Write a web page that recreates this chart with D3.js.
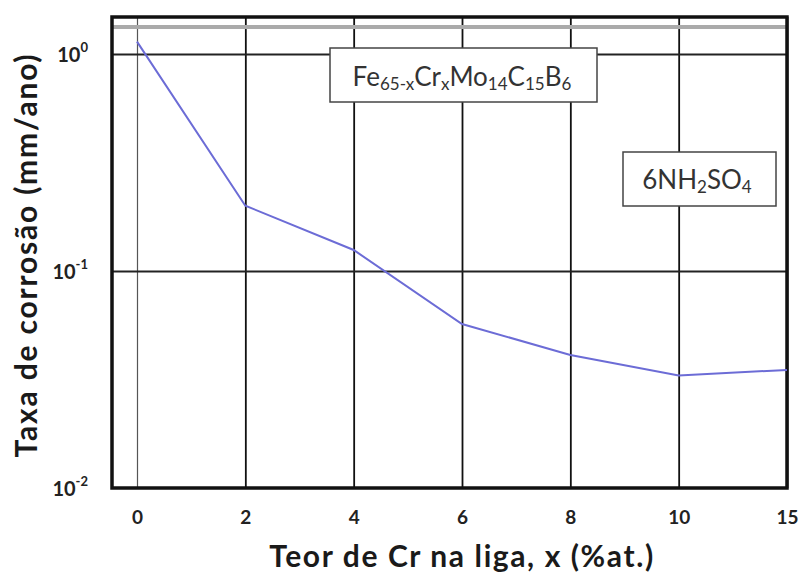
<!DOCTYPE html>
<html lang="pt">
<head>
<meta charset="UTF-8">
<title>Taxa de corrosão</title>
<style>
    body { margin: 0; background: #fff; }
    svg { display: block; }
    .tick text { font-family: Lato, "Open Sans", sans-serif; font-weight: bold; fill: #222; }
    .title { font-family: Lato, "Open Sans", sans-serif; font-weight: bold; fill: #1a1a1a; }
    .legend text { font-family: Lato, "Open Sans", sans-serif; fill: #333; }
</style>
</head>
<body>
<svg id="chart"></svg>
<script src="https://cdn.jsdelivr.net/npm/d3@7"></script>
<script>

const crContent = ["0", "2", "4", "6", "8", "10", "15"];
const corrosionRate = [1.14, 0.20, 0.125, 0.057, 0.041, 0.033, 0.035];
const yTicks = [1, 0.1, 0.01];
const yTickExp = ["0", "-1", "-2"];

const width = 801, height = 577;
const frame = { left: 112, right: 787, top: 17, bottom: 488 };

const svg = d3.select("#chart")
    .attr("width", width)
    .attr("height", height);

const x = d3.scalePoint()
    .domain(crContent)
    .range([137, frame.right]);

const y = d3.scaleLog()
    .domain([0.01, 1.481])
    .range([frame.bottom, frame.top]);

// vertical grid
svg.append("g")
    .attr("transform", `translate(0,${frame.bottom})`)
    .call(d3.axisBottom(x).tickSize(-(frame.bottom - frame.top)).tickFormat(""))
    .call(g => g.select(".domain").remove())
    .call(g => g.selectAll(".tick line")
        .attr("stroke", (d, i) => i === 0 ? "#555" : "#111")
        .attr("stroke-width", (d, i) => i === 0 ? 1.2 : 1.8));

// horizontal grid
svg.append("g")
    .attr("transform", `translate(${frame.left},0)`)
    .call(d3.axisLeft(y).tickValues(yTicks.slice(0, 2)).tickSize(-(frame.right - frame.left)).tickFormat(""))
    .call(g => g.select(".domain").remove())
    .call(g => g.selectAll(".tick line").attr("stroke", "#222").attr("stroke-width", 1.8));

// gray shadow band below top border
svg.append("line")
    .attr("x1", frame.left).attr("x2", frame.right)
    .attr("y1", frame.top + 10).attr("y2", frame.top + 10)
    .attr("stroke", "#aaa")
    .attr("stroke-width", 4);

// x tick labels
svg.append("g")
    .attr("transform", `translate(0,${frame.bottom})`)
    .call(d3.axisBottom(x).tickSize(0).tickPadding(23))
    .call(g => g.select(".domain").remove())
    .call(g => g.selectAll("text").attr("font-size", 19));

// y tick labels
const yAxis = svg.append("g")
    .attr("transform", `translate(${frame.left},0)`)
    .call(d3.axisLeft(y).tickValues(yTicks).tickSize(0).tickPadding(24).tickFormat(""))
    .call(g => g.select(".domain").remove());

yAxis.selectAll(".tick text")
    .attr("font-size", 20)
    .attr("dy", "0.35em")
    .each(function(d, i) {
        const t = d3.select(this);
        t.append("tspan").text("10");
        t.append("tspan").attr("font-size", 13).attr("dy", "-0.7em").text(yTickExp[i]);
    });

// frame
svg.append("rect")
    .attr("x", frame.left).attr("y", frame.top)
    .attr("width", frame.right - frame.left)
    .attr("height", frame.bottom - frame.top)
    .attr("fill", "none")
    .attr("stroke", "#111")
    .attr("stroke-width", 3.5);

// data line
const line = d3.line()
    .x((d, i) => x(crContent[i]))
    .y(d => y(d));

svg.append("path")
    .datum(corrosionRate)
    .attr("fill", "none")
    .attr("stroke", "#6c6cd6")
    .attr("stroke-width", 2)
    .attr("d", line);

// legend boxes
const legend = svg.append("g").attr("class", "legend");

const box1 = legend.append("g");
box1.append("rect")
    .attr("x", 330).attr("y", 48).attr("width", 267).attr("height", 54)
    .attr("fill", "#fff").attr("stroke", "#444").attr("stroke-width", 1.5);
const t1 = box1.append("text")
    .attr("x", 462).attr("y", 86)
    .attr("text-anchor", "middle")
    .attr("font-size", 26);
[["Fe", 0], ["65-x", 1], ["Cr", 0], ["x", 1], ["Mo", 0], ["14", 1], ["C", 0], ["15", 1], ["B", 0], ["6", 1]]
    .forEach(([s, sub]) => {
        t1.append("tspan")
            .attr("font-size", sub ? 17 : 26)
            .attr("baseline-shift", sub ? "-4" : null)
            .text(s);
    });

const box2 = legend.append("g");
box2.append("rect")
    .attr("x", 623).attr("y", 152).attr("width", 153).attr("height", 54)
    .attr("fill", "#fff").attr("stroke", "#444").attr("stroke-width", 1.5);
const t2 = box2.append("text")
    .attr("x", 697).attr("y", 189)
    .attr("text-anchor", "middle")
    .attr("font-size", 26);
[["6NH", 0], ["2", 1], ["SO", 0], ["4", 1]].forEach(([s, sub]) => {
    t2.append("tspan")
        .attr("font-size", sub ? 17 : 26)
        .attr("baseline-shift", sub ? "-4" : null)
        .text(s);
});

// axis titles
svg.append("text")
    .attr("class", "title")
    .attr("x", 462).attr("y", 567)
    .attr("text-anchor", "middle")
    .attr("font-size", 30)
    .attr("letter-spacing", 1.6)
    .text("Teor de Cr na liga, x (%at.)");

svg.append("text")
    .attr("class", "title")
    .attr("transform", "translate(37,255) rotate(-90)")
    .attr("text-anchor", "middle")
    .attr("font-size", 30)
    .attr("letter-spacing", 1.8)
    .text("Taxa de corrosão (mm/ano)");

</script>
</body>
</html>
